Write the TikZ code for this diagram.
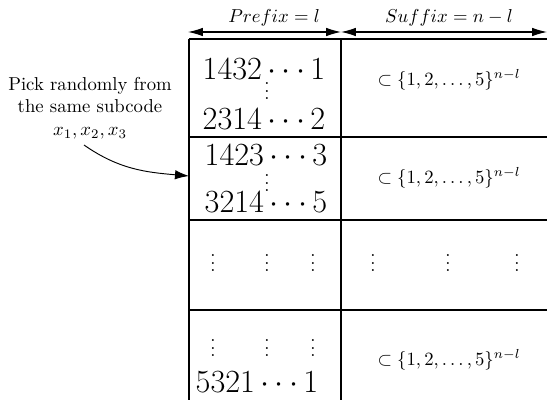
\documentclass[tikz,border=0pt]{standalone}
\usetikzlibrary{arrows.meta}
\begin{document}
\begin{tikzpicture}[x=0.535pt,y=-0.535pt,
  grid/.style={line width=0.8pt},
  big/.style={inner sep=0pt,font=\LARGE},
  vd/.style={inner sep=0pt,anchor=south},
  setnode/.style={inner sep=0pt},
  dim/.style={line width=0.6pt,{Latex[length=8pt,width=4.6pt]}-{Latex[length=8pt,width=4.6pt]}},
  pickarrow/.style={line width=0.5pt,-{Latex[length=7.5pt,width=5pt]}},
]
\useasboundingbox (0,0) rectangle (547,400);
% grid coordinates
\coordinate (A0) at (189,39);  \coordinate (B0) at (341,39);  \coordinate (R0) at (547,39);
\coordinate (A1) at (189,137); \coordinate (R1) at (547,137);
\coordinate (A2) at (189,220); \coordinate (R2) at (547,220);
\coordinate (A3) at (189,310); \coordinate (R3) at (547,310);
\coordinate (A4) at (189,400); \coordinate (B4) at (341,400);
\draw[grid] (A0) -- (R0);
\draw[grid] (A1) -- (R1);
\draw[grid] (A2) -- (R2);
\draw[grid] (A3) -- (R3);
\draw[grid] (A0) -- (A4);
\draw[grid] (B0) -- (B4);
% dimension arrows
\coordinate (pl) at (188,32); \coordinate (pm) at (341,32); \coordinate (pr) at (547,32);
\draw[dim] (pl) -- (pm);
\draw[dim] (pm) -- (pr);
\node (pre) at (274,18) {$Prefix=l$};
\node (suf) at (449,18) {$Suffix=n-l$};
% row 1
\node[big] (r1a) at (264,69) {$1432\cdots1$};
\node[vd] (r1d) at (267,100) {$\vdots$};
\node[big] (r1b) at (264,119) {$2314\cdots2$};
\node[setnode] (s1) at (449,80) {$\subset\{1,2,\ldots,5\}^{n-l}$};
% row 2
\node[big] (r2a) at (266,155) {$1423\cdots3$};
\node[vd] (r2d) at (267,192) {$\vdots$};
\node[big] (r2b) at (266,202) {$3214\cdots5$};
\node[setnode] (s2) at (449,178) {$\subset\{1,2,\ldots,5\}^{n-l}$};
% row 3
\node[vd] (r3a) at (213,272) {$\vdots$};
\node[vd] (r3b) at (267,272) {$\vdots$};
\node[vd] (r3c) at (313,272) {$\vdots$};
\node[vd] (r3d) at (373,272) {$\vdots$};
\node[vd] (r3e) at (448,272) {$\vdots$};
\node[vd] (r3f) at (517,272) {$\vdots$};
% row 4
\node[vd] (r4a) at (213,357) {$\vdots$};
\node[vd] (r4b) at (267,357) {$\vdots$};
\node[vd] (r4c) at (313,357) {$\vdots$};
\node[big] (r4d) at (257,382) {$5321\cdots1$};
\node[setnode] (s4) at (449,360) {$\subset\{1,2,\ldots,5\}^{n-l}$};
% left label
\node[align=center,inner sep=0pt] (pick) at (90,108) {Pick randomly from\\the same subcode\\$x_1,x_2,x_3$};
\coordinate (pstart) at (84,145);
\coordinate (pend) at (189,176);
\draw[pickarrow] (pstart) to[out=-35,in=175] (pend);
\end{tikzpicture}
\end{document}
